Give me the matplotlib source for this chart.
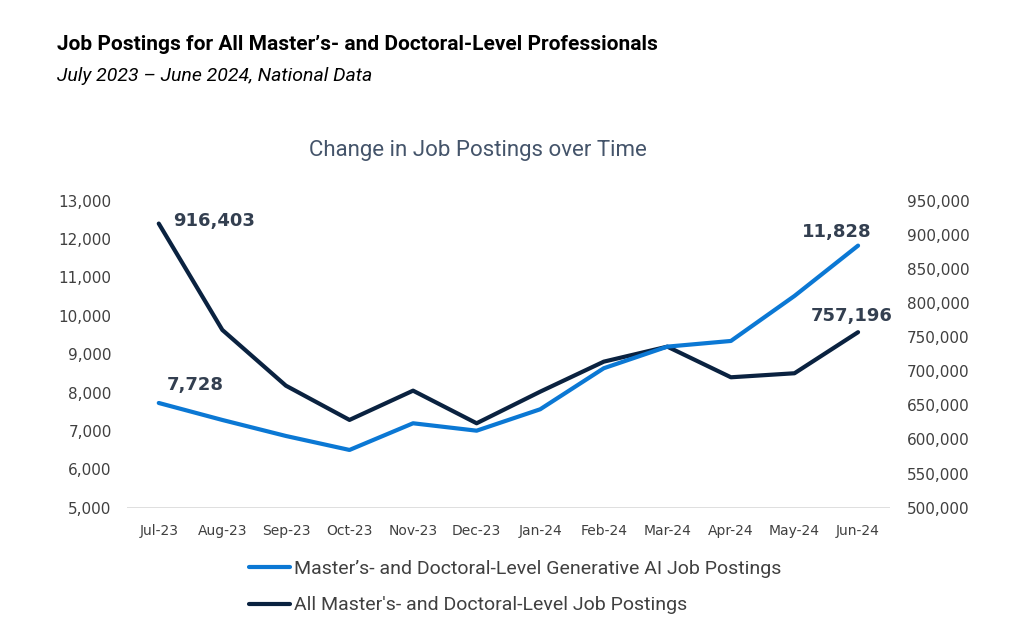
import matplotlib.pyplot as plt
from matplotlib.ticker import FuncFormatter, MultipleLocator

# data
months = ['Jul-23', 'Aug-23', 'Sep-23', 'Oct-23', 'Nov-23', 'Dec-23',
          'Jan-24', 'Feb-24', 'Mar-24', 'Apr-24', 'May-24', 'Jun-24']
genai_postings = [7728, 7285, 6868, 6504, 7199, 7006,
                  7564, 8633, 9196, 9344, 10517, 11828]
all_postings = [916403, 760500, 678800, 628600, 671500, 623700,
                670000, 714000, 736000, 691100, 697000, 757196]

blue = '#0B78D4'
navy = '#0A2240'
txt = '#404040'

plt.rcParams['font.family'] = ['Roboto', 'DejaVu Sans']

fig = plt.figure(figsize=(10.24, 6.41), dpi=100)
ax = fig.add_axes([0.124, 0.208, 0.745, 0.479])
ax2 = ax.twinx()

x = list(range(len(months)))
ax.plot(x, genai_postings, color=blue, lw=3, solid_capstyle='round', zorder=3,
        label='Master\u2019s- and Doctoral-Level Generative AI Job Postings')
ax2.plot(x, all_postings, color=navy, lw=3, solid_capstyle='round',
         label="All Master's- and Doctoral-Level Job Postings")

ax.set_zorder(ax2.get_zorder() + 1)
ax.patch.set_visible(False)

ax.set_xlim(-0.5, 11.5)
ax.set_ylim(5000, 13000)
ax2.set_ylim(500000, 950000)
ax.yaxis.set_major_locator(MultipleLocator(1000))
ax2.yaxis.set_major_locator(MultipleLocator(50000))
fmt = FuncFormatter(lambda v, p: f'{int(v):,}')
ax.yaxis.set_major_formatter(fmt)
ax2.yaxis.set_major_formatter(fmt)
ax.set_xticks(x)
ax.set_xticklabels(months)

for a in (ax, ax2):
    for s in a.spines.values():
        s.set_visible(False)
    a.tick_params(length=0, colors=txt)
ax.tick_params(axis='y', labelsize=11, pad=11)
ax2.tick_params(axis='y', labelsize=11, pad=12)
ax.tick_params(axis='x', labelsize=10, pad=12)
for t in ax.get_xticklabels() + ax.get_yticklabels() + ax2.get_yticklabels():
    t.set_family('DejaVu Sans')
ax.axhline(5000, color='#d9d9d9', lw=1.2, zorder=1)

# data labels at the ends
lab = dict(fontsize=13, fontweight='bold', color='#333F50', family='DejaVu Sans',
           textcoords='offset points')
ax2.annotate('916,403', (0, all_postings[0]), xytext=(10, 2), ha='left', va='center', **lab)
ax.annotate('7,728', (0, genai_postings[0]), xytext=(6, 13), ha='left', va='center', **lab)
ax.annotate('11,828', (11, genai_postings[-1]), xytext=(10, 10), ha='right', va='center', **lab)
ax2.annotate('757,196', (11, all_postings[-1]), xytext=(25, 12), ha='right', va='center', **lab)

fig.text(0.056, 0.931, 'Job Postings for All Master\u2019s- and Doctoral-Level Professionals',
         fontsize=15, fontweight='bold', color='black', va='center')
fig.text(0.056, 0.882, 'July 2023 \u2013 June 2024, National Data',
         fontsize=14, style='italic', color='black', va='center')
fig.text(0.467, 0.765, 'Change in Job Postings over Time',
         fontsize=16, color='#44546A', ha='center', va='center')

h1, l1 = ax.get_legend_handles_labels()
h2, l2 = ax2.get_legend_handles_labels()
fig.legend(h1 + h2, l1 + l2, loc='center', bbox_to_anchor=(0.503, 0.084),
           ncol=1, frameon=False, fontsize=14, labelcolor=txt,
           handlelength=2.1, handletextpad=0.2, labelspacing=0.95)

fig.savefig('out.png', dpi=100)
